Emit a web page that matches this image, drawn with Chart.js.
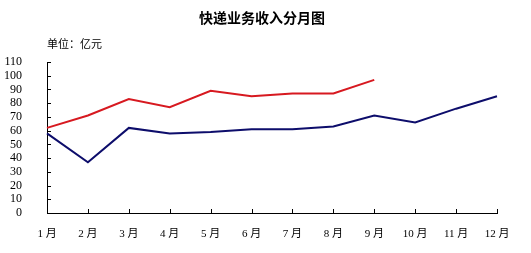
<!DOCTYPE html>
<html>
<head>
<meta charset="utf-8">
<script src="https://cdn.jsdelivr.net/npm/chart.js@4"></script>
<style>
  html, body { margin: 0; padding: 0; background: #fff; }
  #wrap { width: 531px; height: 253px; position: relative; }
</style>
</head>
<body>
<div id="wrap"><canvas id="chart" width="531" height="253"></canvas></div>
<script>
// 快递业务收入分月图 — 单位：亿元
const months = ['1 月','2 月','3 月','4 月','5 月','6 月','7 月','8 月','9 月','10 月','11 月','12 月'];
const seriesBlue = [58, 37, 62, 58, 59, 61, 61, 63, 71, 66, 76, 85];
const seriesRed  = [62, 71, 83, 77, 89, 85, 87, 87, 97];
const yTicks = [0, 10, 20, 30, 40, 50, 60, 70, 80, 90, 100, 110];

const TITLE = '快递业务收入分月图';
const UNIT = '单位：亿元';
const FONT = '"Liberation Serif", "Noto Sans CJK SC", serif';

// 标题、单位、刻度线（向内）
const decor = {
  id: 'decor',
  afterDraw(chart) {
    const { ctx, chartArea: a, scales } = chart;
    ctx.save();
    ctx.fillStyle = '#000';
    ctx.font = 'bold 14px "Noto Sans CJK SC"';
    ctx.textAlign = 'center';
    ctx.textBaseline = 'middle';
    ctx.fillText(TITLE, 262, 18);
    ctx.font = '11px "Noto Sans CJK SC"';
    ctx.textAlign = 'left';
    ctx.fillText(UNIT, 47, 44);

    ctx.strokeStyle = '#000';
    ctx.lineWidth = 1;
    ctx.beginPath();
    scales.y.ticks.forEach((t, i) => {
      const y = Math.round(scales.y.getPixelForValue(t.value)) + 0.5;
      ctx.moveTo(a.left, y); ctx.lineTo(a.left + 4, y);
    });
    scales.x.ticks.forEach((t, i) => {
      const x = Math.round(scales.x.getPixelForTick(i)) + 0.5;
      ctx.moveTo(x, a.bottom); ctx.lineTo(x, a.bottom - 4);
    });
    ctx.stroke();
    ctx.restore();
  }
};

new Chart(document.getElementById('chart'), {
  type: 'line',
  data: {
    labels: months,
    datasets: [
      { data: seriesRed, borderColor: '#d71920', borderWidth: 2, pointRadius: 0, tension: 0 },
      { data: seriesBlue, borderColor: '#0d0d6b', borderWidth: 2, pointRadius: 0, tension: 0 }
    ]
  },
  options: {
    responsive: false,
    animation: false,
    layout: { padding: { left: 0, right: 34, top: 62, bottom: 0 } },
    plugins: { legend: { display: false }, title: { display: false }, tooltip: { enabled: false } },
    scales: {
      x: {
        offset: false,
        grid: { display: false },
        border: { color: '#000', width: 1 },
        ticks: { color: '#000', font: { family: FONT, size: 11 }, padding: 7, maxRotation: 0, autoSkip: false },
        afterFit(s) { s.height = 40; }
      },
      y: {
        min: 0, max: 110,
        afterBuildTicks(s) { s.ticks = yTicks.map(v => ({ value: v })); },
        grid: { display: false },
        border: { color: '#000', width: 1 },
        ticks: { color: '#000', font: { family: FONT, size: 12 }, padding: 17, autoSkip: false },
        afterFit(s) { s.width = 47; }
      }
    }
  },
  plugins: [decor]
});
</script>
</body>
</html>
